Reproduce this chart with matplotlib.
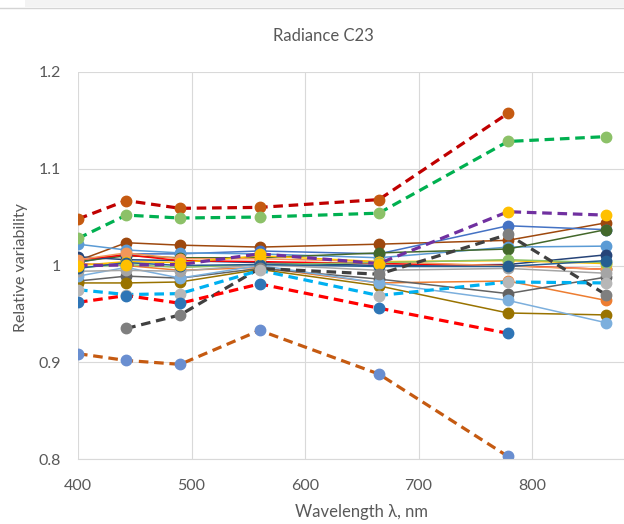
import numpy as np
import matplotlib
matplotlib.use("Agg")
import matplotlib.pyplot as plt
from matplotlib.patches import Rectangle

plt.rcParams['font.family'] = ['Lato', 'DejaVu Sans']

wavelengths = [400, 442.5, 490, 560, 665, 778.75, 865]
nan = np.nan

# solid series: (line colour, marker colour, values)
solid_colors = ['#9e480e', '#4472c4', '#5b9bd5', '#43682b', '#264478', '#ff0000',
                '#ed7d31', '#f1975a', '#636363', '#997300', '#7cafdd', '#ffc000',
                '#8cc168', '#a5a5a5', '#255e91']
solid_markers = ['#9e480e', '#4472c4', '#5b9bd5', '#43682b', '#264478', '#255e91',
                 '#ed7d31', '#f1975a', '#636363', '#997300', '#7cafdd', '#ffc000',
                 '#8cc168', '#a5a5a5', '#255e91']
solid_values = [
    [1.005, 1.0235, 1.021, 1.019, 1.022, 1.026, 1.044],
    [1.003, 1.012, 1.012, 1.015, 1.012, 1.041, 1.037],
    [1.022, 1.016, 1.013, 1.012, 1.008, 1.019, 1.020],
    [1.004, 1.010, 1.008, 1.008, 1.013, 1.017, 1.037],
    [1.009, 1.006, 1.005, 1.003, 1.000, 1.001, 1.011],
    [1.006, 1.011, 1.005, 1.004, 1.002, 1.000, 0.996],
    [1.002, 1.000, 0.995, 0.998, 0.982, 0.984, 0.964],
    [1.006, 1.013, 1.007, 1.007, 1.004, 0.9995, 0.996],
    [0.984, 0.989, 0.987, 0.997, 0.986, 0.971, 0.988],
    [0.982, 0.982, 0.983, 0.996, 0.979, 0.951, 0.949],
    [0.989, 0.998, 0.987, 1.000, 0.982, 0.964, 0.941],
    [1.000, 1.004, 1.003, 1.010, 1.004, 1.005, 1.002],
    [0.998, 1.001, 0.998, 1.001, 1.003, 1.006, 1.003],
    [0.994, 0.995, 0.994, 1.001, 0.995, 0.997, 0.992],
    [0.997, 1.003, 1.000, 1.001, 0.999, 0.999, 1.005],
]

# dashed series
dashed_colors = ['#c00000', '#00b050', '#7030a0', '#404040', '#00b0f0', '#ff0000', '#c55a11']
dashed_markers = ['#c55a11', '#8cc168', '#ffc000', '#7f7f7f', '#b7b7b7', '#2e75b6', '#698ed0']
dashed_values = [
    [1.048, 1.067, 1.059, 1.060, 1.068, 1.157, nan],
    [1.028, 1.052, 1.049, 1.050, 1.054, 1.128, 1.133],
    [1.000, 1.0005, 1.001, 1.012, 1.002, 1.0555, 1.052],
    [nan, 0.935, 0.949, 0.997, 0.991, 1.032, 0.970],
    [0.975, 0.970, 0.971, 0.995, 0.969, 0.983, 0.982],
    [0.962, 0.969, 0.961, 0.981, 0.956, 0.930, nan],
    [0.909, 0.902, 0.898, 0.933, 0.888, 0.803, 0.72],
]

fig = plt.figure(figsize=(6.24, 5.24), dpi=100)
ax = fig.add_axes([78 / 624, 1 - 459.3 / 524, 1 - 78 / 624, (459.3 - 71.7) / 524])

for col, mcol, vals in zip(solid_colors, solid_markers, solid_values):
    ax.plot(wavelengths, vals, color=col, linewidth=1.1, marker='o', markersize=7.5,
            markerfacecolor=mcol, markeredgecolor=mcol)

for col, mcol, vals in zip(dashed_colors, dashed_markers, dashed_values):
    ax.plot(wavelengths, vals, color=col, linewidth=2.3, linestyle=(0, (3, 1.8)),
            marker='o', markersize=7.5, markerfacecolor=mcol, markeredgecolor=mcol)

ax.set_xlim(400, 881)
ax.set_ylim(0.8, 1.2)
ax.set_xticks([400, 500, 600, 700, 800])
ax.set_yticks([0.8, 0.9, 1.0, 1.1, 1.2])
ax.set_yticklabels(['0.8', '0.9', '1', '1.1', '1.2'])
ax.grid(True, color='#d9d9d9', linewidth=0.8)
ax.set_axisbelow(True)
for side in ['top', 'right', 'left']:
    ax.spines[side].set_visible(False)
ax.spines['bottom'].set_color('#d9d9d9')
ax.tick_params(length=0, labelsize=11.5, labelcolor='#595959')
ax.tick_params(axis='x', pad=14)
ax.tick_params(axis='y', pad=12)

fig.text(323 / 624, 1 - 36 / 524, 'Radiance C23', ha='center', va='center',
         fontsize=12, color='#595959')
fig.text(361 / 624, 1 - 512 / 524, 'Wavelength λ, nm', ha='center', va='center',
         fontsize=12, color='#595959')
fig.text(21 / 624, 1 - 268 / 524, 'Relative variability', ha='center', va='center',
         rotation=90, fontsize=11.5, color='#595959')

# strip along the top edge
fig.patches.append(Rectangle((25 / 624, 1 - 7 / 524), 1, 7 / 524, transform=fig.transFigure,
                             facecolor='#f3f3f3', edgecolor='none'))
fig.lines.append(plt.Line2D([0, 1], [1 - 7.5 / 524, 1 - 7.5 / 524], transform=fig.transFigure,
                            color='#d4d4d4', linewidth=1))

fig.savefig('out.png', dpi=100)
